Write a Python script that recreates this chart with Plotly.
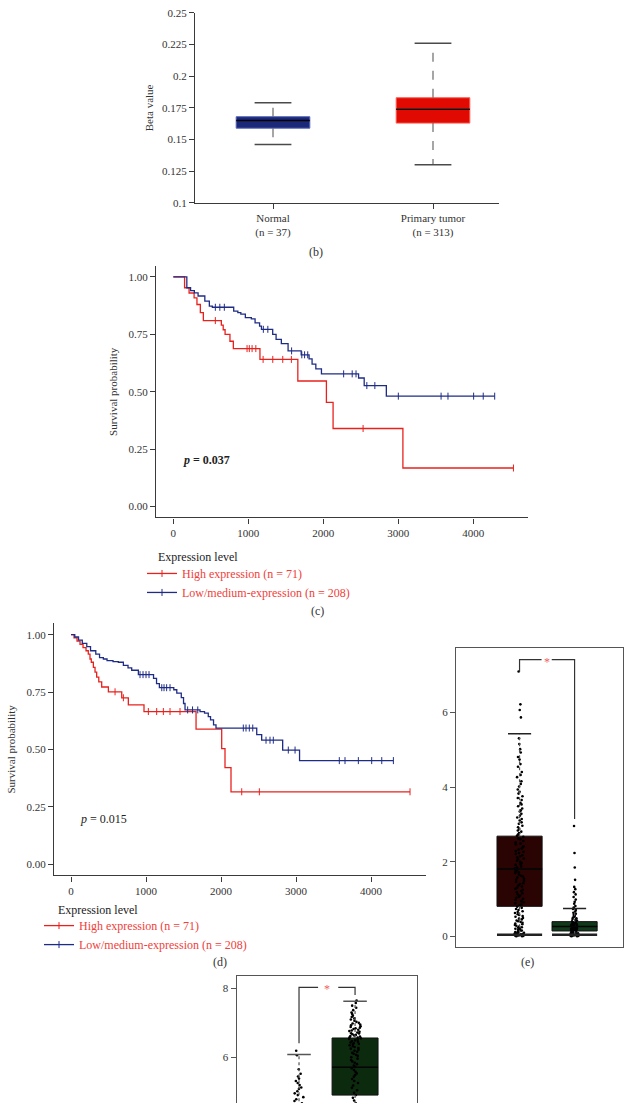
import numpy as np
import plotly.graph_objects as go

W, H = 637, 1109
FONT = "Liberation Serif"

# ---------------- Panel (b): methylation beta value boxes ----------------
b_labels = ["Normal<br>(n = 37)", "Primary tumor<br>(n = 313)"]
b_q1 = [0.159, 0.163]
b_median = [0.165, 0.174]
b_q3 = [0.168, 0.183]
b_lower = [0.146, 0.130]
b_upper = [0.179, 0.226]

# ---------------- Panel (c): KM curves ----------------
c_high_t = [0, 150, 210, 277, 315, 360, 400, 640, 665, 690, 755, 800, 1155, 1660, 2041, 2130, 3061, 4535]
c_high_s = [1.0, 0.953, 0.93, 0.909, 0.88, 0.845, 0.81, 0.79, 0.77, 0.75, 0.72, 0.688, 0.641, 0.547, 0.454, 0.34, 0.168, 0.168]
c_high_cens = [560, 983, 1013, 1050, 1100, 1197, 1326, 1459, 1574, 2530, 4535]
c_low_t = [0, 180, 230, 280, 330, 420, 480, 520, 805, 860, 900, 960, 1040, 1090, 1150, 1175, 1325, 1370, 1440, 1530,
           1705, 1810, 1850, 1900, 1975, 2470, 2545, 2840, 4285]
c_low_s = [1.0, 0.953, 0.94, 0.931, 0.917, 0.895, 0.873, 0.868, 0.851, 0.845, 0.838, 0.823, 0.817, 0.80, 0.786, 0.772,
           0.75, 0.728, 0.71, 0.678, 0.661, 0.643, 0.62, 0.60, 0.578, 0.56, 0.527, 0.481, 0.481]
c_low_cens = [560, 620, 680, 1200, 1260, 1577, 1713, 1750, 1792, 2271, 2385, 2436, 2580, 2687, 3000, 3570, 3662,
              4004, 4132, 4285]

# ---------------- Panel (d): KM curves ----------------
d_high_t = [0, 40, 80, 120, 160, 200, 230, 253, 270, 298, 320, 342, 370, 409, 498, 676, 764, 973, 1667, 2009, 2053,
            2133, 4520]
d_high_s = [1.0, 0.986, 0.972, 0.958, 0.944, 0.93, 0.915, 0.894, 0.88, 0.858, 0.837, 0.815, 0.794, 0.772, 0.751,
            0.725, 0.694, 0.665, 0.588, 0.503, 0.42, 0.315, 0.315]
d_high_cens = [587, 698, 1031, 1142, 1231, 1320, 1453, 2276, 2511, 4520]
d_low_t = [0, 50, 100, 150, 210, 260, 330, 380, 431, 480, 560, 631, 698, 760, 809, 898, 1100, 1140, 1178, 1370, 1410,
           1470, 1500, 1520, 1720, 1780, 1830, 1860, 1900, 1933, 2476, 2542, 2822, 3047, 4298]
d_low_s = [1.0, 0.99, 0.976, 0.962, 0.948, 0.93, 0.915, 0.90, 0.894, 0.887, 0.883, 0.88, 0.866, 0.855, 0.845, 0.826,
           0.81, 0.787, 0.769, 0.76, 0.745, 0.726, 0.70, 0.672, 0.665, 0.658, 0.643, 0.629, 0.607, 0.593, 0.564, 0.54,
           0.497, 0.451, 0.451]
d_low_cens = [920, 960, 1000, 1040, 1210, 1240, 1275, 1320, 1555, 1620, 1690, 2297, 2333, 2377, 2423, 2600, 2653,
              2697, 2897, 2987, 3577, 3653, 3831, 4009, 4143, 4298]

km_names = ["High expression (n = 71)", "Low/medium-expression (n = 208)"]

# ---------------- Panel (e): expression boxes ----------------
e_q1 = [0.81, 0.15]
e_median = [1.81, 0.27]
e_q3 = [2.69, 0.40]
e_lower = [0.05, 0.05]
e_upper = [5.43, 0.75]
e_tumor_pts = [7.10, 6.22, 6.07, 5.87, 5.31, 5.16, 5.02, 4.93, 4.81, 4.74, 4.62, 4.55, 4.41, 4.33, 4.27, 4.16, 4.09,
               4.02, 3.94, 3.88, 3.83, 3.76, 3.71, 3.66, 3.58, 3.54, 3.49, 3.43, 3.38, 3.35, 3.29, 3.24, 3.19, 3.15,
               3.11, 3.06, 3.02, 2.97, 2.93, 2.88, 2.84, 2.81, 2.77, 2.73, 2.70, 2.67, 2.63, 2.61, 2.56, 2.52, 2.49,
               2.47, 2.42, 2.39, 2.36, 2.33, 2.29, 2.27, 2.24, 2.21, 2.18, 2.15, 2.12, 2.09, 2.07, 2.03, 2.00, 1.97,
               1.94, 1.92, 1.88, 1.85, 1.83, 1.80, 1.78, 1.75, 1.72, 1.70, 1.66, 1.63, 1.61, 1.58, 1.55, 1.52, 1.49,
               1.46, 1.43, 1.41, 1.37, 1.34, 1.31, 1.28, 1.25, 1.22, 1.19, 1.16, 1.13, 1.10, 1.07, 1.04, 1.01, 0.98,
               0.95, 0.92, 0.89, 0.86, 0.83, 0.80, 0.77, 0.74, 0.71, 0.68, 0.66, 0.63, 0.60, 0.58, 0.55, 0.53, 0.50,
               0.48, 0.46, 0.43, 0.41, 0.39, 0.37, 0.35, 0.33, 0.31, 0.29, 0.27, 0.25, 0.24, 0.22, 0.21, 0.19, 0.18,
               0.16, 0.15, 0.14, 0.12, 0.11, 0.10, 0.09, 0.08, 0.07, 0.06, 0.06, 0.05, 0.05, 0.04, 0.04, 0.03, 0.03,
               0.02, 0.02, 0.01, 0.01]
e_normal_pts = [2.96, 2.24, 1.85, 1.52, 1.33, 1.27, 1.19, 1.13, 1.06, 0.99, 0.93, 0.88, 0.82, 0.78, 0.74, 0.71, 0.67,
                0.64, 0.61, 0.58, 0.56, 0.53, 0.51, 0.49, 0.47, 0.45, 0.43, 0.41, 0.40, 0.38, 0.37, 0.36, 0.35, 0.34,
                0.33, 0.32, 0.31, 0.30, 0.29, 0.28, 0.28, 0.27, 0.26, 0.25, 0.24, 0.24, 0.23, 0.22, 0.21, 0.21, 0.20,
                0.19, 0.18, 0.18, 0.17, 0.16, 0.15, 0.15, 0.14, 0.13, 0.12, 0.12, 0.11, 0.10, 0.09, 0.09, 0.08, 0.07,
                0.07, 0.06, 0.05, 0.05, 0.04, 0.04, 0.03, 0.03, 0.02, 0.02, 0.01, 0.01]

# ---------------- Panel (f): expression boxes (partly visible) ----------------
f_q1 = [3.70, 4.90]
f_median = [4.20, 5.71]
f_q3 = [4.55, 6.56]
f_lower = [3.30, 3.80]
f_upper = [6.08, 7.63]
f_left_pts = [6.19, 6.06, 5.65, 5.52, 5.44, 5.38, 5.31, 5.25, 5.19, 5.12, 5.08, 5.01, 4.95, 4.90, 4.84, 4.78, 4.73,
              4.66, 4.58, 4.49, 4.41, 4.33, 4.24, 4.15, 4.06, 3.97, 3.88, 3.76, 3.62, 3.50]
f_right_pts = [7.65, 7.58, 7.50, 7.44, 7.37, 7.30, 7.26, 7.21, 7.17, 7.13, 7.10, 7.06, 7.03, 7.00, 6.98, 6.95, 6.93,
               6.90, 6.88, 6.86, 6.84, 6.82, 6.80, 6.78, 6.76, 6.74, 6.72, 6.70, 6.69, 6.67, 6.65, 6.63, 6.62, 6.60,
               6.58, 6.57, 6.55, 6.53, 6.51, 6.49, 6.47, 6.45, 6.43, 6.41, 6.39, 6.37, 6.35, 6.32, 6.30, 6.27, 6.25,
               6.22, 6.19, 6.16, 6.13, 6.10, 6.07, 6.04, 6.00, 5.96, 5.92, 5.88, 5.84, 5.80, 5.76, 5.72, 5.68, 5.63,
               5.58, 5.53, 5.48, 5.43, 5.37, 5.31, 5.25, 5.18, 5.11, 5.04, 4.97, 4.90, 4.82, 4.74, 4.66, 4.57, 4.48,
               4.38, 4.27, 4.15, 4.02, 3.88]

RED = "#e8211d"
BLUE = "#1f2c86"
LEG_RED = "#f0403a"
AX = "#3a3a3a"


def px(x):
    return x / W


def py(y):
    return 1 - y / H


fig = go.Figure()


def add_box(xa, ya, pos, q1, med, q3, lo, hi, fill, edge, width, capw, lowcapw, wcol, capcol,
            dash="dash", lowcap_lw=1.5):
    fig.add_trace(go.Box(x=[pos], q1=[q1], median=[med], q3=[q3], lowerfence=[q1], upperfence=[q3],
                         width=width, fillcolor=fill, line=dict(color=edge, width=1), whiskerwidth=0,
                         boxpoints=False, xaxis=xa, yaxis=ya, showlegend=False, hoverinfo="skip"))
    fig.add_trace(go.Scatter(x=[pos - width / 2, pos + width / 2], y=[med, med], mode="lines",
                             line=dict(color="#050505", width=1.5), xaxis=xa, yaxis=ya,
                             showlegend=False, hoverinfo="skip"))
    fig.add_trace(go.Scatter(x=[pos, pos, None, pos, pos], y=[q3, hi, None, q1, lo], mode="lines",
                             line=dict(color=wcol, width=1.2, dash=dash), xaxis=xa, yaxis=ya,
                             showlegend=False, hoverinfo="skip"))
    fig.add_trace(go.Scatter(x=[pos - capw / 2, pos + capw / 2], y=[hi, hi], mode="lines",
                             line=dict(color=capcol, width=1.5), xaxis=xa, yaxis=ya,
                             showlegend=False, hoverinfo="skip"))
    fig.add_trace(go.Scatter(x=[pos - lowcapw / 2, pos + lowcapw / 2], y=[lo, lo], mode="lines",
                             line=dict(color=capcol, width=lowcap_lw), xaxis=xa, yaxis=ya,
                             showlegend=False, hoverinfo="skip"))


def add_points(xa, ya, pos, vals, width, jitter):
    fig.add_trace(go.Box(x=[pos] * len(vals), y=vals, boxpoints="all", jitter=jitter, pointpos=0,
                         width=width, fillcolor="rgba(0,0,0,0)",
                         line=dict(width=0, color="rgba(0,0,0,0)"), whiskerwidth=0,
                         marker=dict(size=2.6, color="#000000"), xaxis=xa, yaxis=ya,
                         showlegend=False, hoverinfo="skip"))


# ---- (b)
b_fill = ["#1c2878", "#e00a02"]
b_edge = ["#5062b8", "#ff5a50"]
for i in range(2):
    add_box("x", "y", i, b_q1[i], b_median[i], b_q3[i], b_lower[i], b_upper[i], b_fill[i], b_edge[i],
            0.46, 0.23, 0.23, "#6a6a6a", "#4a4a4a")


# ---- KM helper
def km(xa, ya, t, s, cens, color, name, legend):
    fig.add_trace(go.Scatter(x=t, y=s, mode="lines", line=dict(color=color, width=1.3, shape="hv"),
                             xaxis=xa, yaxis=ya, showlegend=False, hoverinfo="skip"))
    t_arr = np.array(t)
    s_arr = np.array(s)
    idx = np.searchsorted(t_arr, np.array(cens), side="right") - 1
    mk = dict(symbol="line-ns-open", size=5, color=color, line=dict(color=color, width=1))
    fig.add_trace(go.Scatter(x=cens, y=s_arr[idx], mode="markers", marker=mk,
                             xaxis=xa, yaxis=ya, showlegend=False, hoverinfo="skip"))
    fig.add_trace(go.Scatter(x=[None], y=[None], mode="lines+markers", name=name,
                             line=dict(color=color, width=1.3), marker=mk,
                             xaxis=xa, yaxis=ya, legend=legend))


km("x2", "y2", c_high_t, c_high_s, c_high_cens, RED, km_names[0], "legend")
km("x2", "y2", c_low_t, c_low_s, c_low_cens, BLUE, km_names[1], "legend")
km("x3", "y3", d_high_t, d_high_s, d_high_cens, RED, km_names[0], "legend2")
km("x3", "y3", d_low_t, d_low_s, d_low_cens, BLUE, km_names[1], "legend2")

# ---- (e)
e_fill = ["#2a0303", "#113a1c"]
for i in range(2):
    add_box("x4", "y4", i, e_q1[i], e_median[i], e_q3[i], e_lower[i], e_upper[i], e_fill[i], "#111111",
            0.82, 0.42, 0.82, "#555555", "#222222", dash="dot", lowcap_lw=2.5)
add_points("x4", "y4", 0, e_tumor_pts, 0.82, 0.22)
add_points("x4", "y4", 1, e_normal_pts, 0.82, 0.22)
fig.add_trace(go.Scatter(x=[0, 0, 0.40, None, 0.585, 1, 1], y=[7.09, 7.42, 7.42, None, 7.42, 7.42, 3.15],
                         mode="lines", line=dict(color="#333333", width=1.2), xaxis="x4", yaxis="y4",
                         showlegend=False, hoverinfo="skip"))

# ---- (f)
f_fill = ["#2a0303", "#0c2a0e"]
for i in range(2):
    add_box("x5", "y5", i, f_q1[i], f_median[i], f_q3[i], f_lower[i], f_upper[i], f_fill[i], "#111111",
            0.82, 0.42, 0.82, "#555555", "#555555", dash="dot", lowcap_lw=2.5)
add_points("x5", "y5", 0, f_left_pts, 0.82, 0.22)
add_points("x5", "y5", 1, f_right_pts, 0.82, 0.28)
fig.add_trace(go.Scatter(x=[0, 0, 0.34, None, 0.70, 1, 1], y=[6.41, 8.03, 8.03, None, 8.03, 8.03, 7.81],
                         mode="lines", line=dict(color="#333333", width=1.2), xaxis="x5", yaxis="y5",
                         showlegend=False, hoverinfo="skip"))

tickfont = dict(family=FONT, size=11, color="#333333")
common = dict(showgrid=False, zeroline=False, showline=True, linecolor=AX, linewidth=1.2,
              ticks="outside", ticklen=5, tickcolor=AX, tickfont=tickfont)

fig.update_layout(
    width=W, height=H, margin=dict(l=0, r=0, t=0, b=0),
    paper_bgcolor="white", plot_bgcolor="white", boxmode="overlay",
    font=dict(family=FONT, size=11, color="#333333"),
    xaxis=dict(domain=[px(195), px(499)], range=[-0.4875, 1.4125], anchor="y",
               tickvals=[0, 1], ticktext=b_labels, **common),
    yaxis=dict(domain=[py(199), py(7)], range=[0.1, 0.25], anchor="x", dtick=0.025, tick0=0.1,
               title=dict(text="Beta value", font=dict(family=FONT, size=11, color="#333333"), standoff=6),
               **common),
    xaxis2=dict(domain=[px(156), px(528)], range=[-231, 4729], anchor="y2",
                tickvals=[0, 1000, 2000, 3000, 4000], **common),
    yaxis2=dict(domain=[py(517), py(263)], range=[-0.047, 1.047], anchor="x2",
                tickvals=[0, 0.25, 0.5, 0.75, 1.0], tickformat=".2f",
                title=dict(text="Survival probability", font=dict(family=FONT, size=11, color="#333333"),
                           standoff=8),
                **common),
    xaxis3=dict(domain=[px(54), px(426)], range=[-227, 4733], anchor="y3",
                tickvals=[0, 1000, 2000, 3000, 4000], **common),
    yaxis3=dict(domain=[py(879), py(624)], range=[-0.05, 1.05], anchor="x3",
                tickvals=[0, 0.25, 0.5, 0.75, 1.0], tickformat=".2f",
                title=dict(text="Survival probability", font=dict(family=FONT, size=11, color="#333333"),
                           standoff=8),
                **common),
    xaxis4=dict(domain=[px(456), px(623)], range=[-1.155, 1.88], anchor="y4", mirror=True,
                showgrid=False, zeroline=False, showline=True, linecolor="#555555", linewidth=1.2,
                showticklabels=False, ticks=""),
    yaxis4=dict(domain=[py(951.7), py(649)], range=[-0.29, 7.73], anchor="x4", mirror=True,
                tickvals=[0, 2, 4, 6], showgrid=False, zeroline=False, showline=True, linecolor="#555555",
                linewidth=1.2, ticks="outside", ticklen=5, tickcolor="#555555", tickfont=tickfont),
    xaxis5=dict(domain=[px(236.6), px(416.7)], range=[-1.114, 2.1], anchor="y5", side="top",
                showgrid=False, zeroline=False, showline=True, linecolor="#555555", linewidth=1.2,
                showticklabels=False, ticks=""),
    yaxis5=dict(domain=[0, py(980.7)], range=[4.67, 8.36], anchor="x5", mirror=True,
                tickvals=[4, 6, 8], showgrid=False, zeroline=False, showline=True, linecolor="#555555",
                linewidth=1.2, ticks="outside", ticklen=5, tickcolor="#555555", tickfont=tickfont),
    legend=dict(x=px(142), y=py(559), xanchor="left", yanchor="top", bgcolor="rgba(0,0,0,0)",
                font=dict(family=FONT, size=12, color=LEG_RED), tracegroupgap=0, itemwidth=30),
    legend2=dict(x=px(39), y=py(915), xanchor="left", yanchor="top", bgcolor="rgba(0,0,0,0)",
                 font=dict(family=FONT, size=12, color=LEG_RED), tracegroupgap=0, itemwidth=30),
)

ann_font = dict(family=FONT, size=12, color="#333333")


def pann(text, x, y, **kw):
    d = dict(text=text, x=px(x), y=py(y), xref="paper", yref="paper", showarrow=False,
             yanchor="middle", font=ann_font)
    d.update(kw)
    return d


annotations = [
    pann("(b)", 316, 249),
    pann("(c)", 317, 612),
    pann("(d)", 211, 966),
    pann("(e)", 536, 966),
    pann("Expression level", 156, 557, xanchor="left", font=dict(family=FONT, size=12, color="#222222")),
    pann("Expression level", 56, 914, xanchor="left", font=dict(family=FONT, size=12, color="#222222")),
    dict(text="<b><i>p</i> = 0.037</b>", x=100, y=0.205, xref="x2", yref="y2", xanchor="left",
         yanchor="middle", showarrow=False, font=dict(family=FONT, size=12, color="#222222")),
    dict(text="<i>p</i> = 0.015", x=90, y=0.195, xref="x3", yref="y3", xanchor="left",
         yanchor="middle", showarrow=False, font=dict(family=FONT, size=12, color="#222222")),
    dict(text="*", x=0.49, y=7.36, xref="x4", yref="y4", showarrow=False,
         font=dict(family=FONT, size=12, color="#f06060")),
    dict(text="*", x=0.50, y=7.98, xref="x5", yref="y5", showarrow=False,
         font=dict(family=FONT, size=12, color="#f06060")),
]
fig.update_layout(annotations=annotations)

fig.write_html("out.html", config={"displayModeBar": False},
               post_script="document.body.style.margin='0';document.body.style.padding='0';")
